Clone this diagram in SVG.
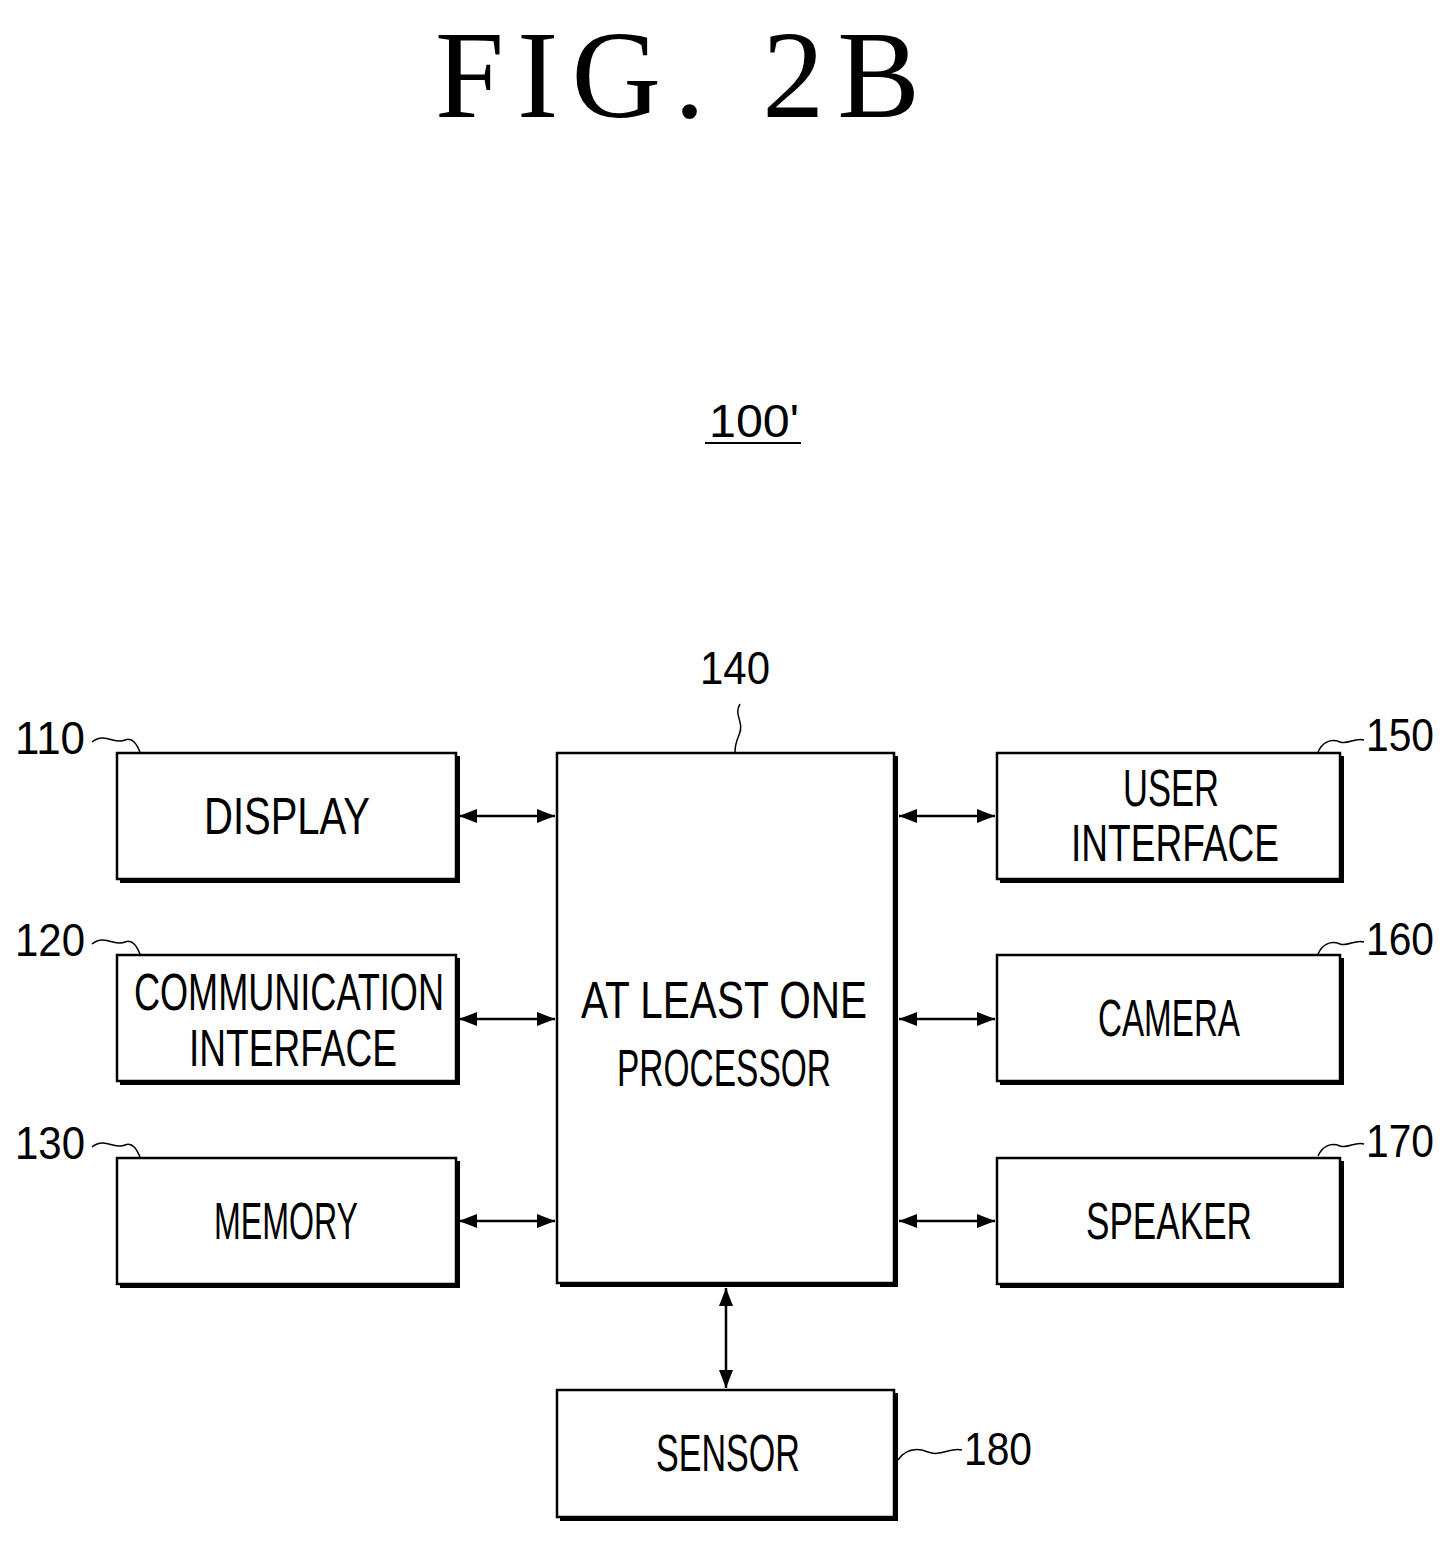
<svg xmlns="http://www.w3.org/2000/svg" width="1453" height="1543" viewBox="0 0 1453 1543">
<defs>
<marker id="ah" viewBox="0 0 18 14" refX="18" refY="7" markerWidth="18" markerHeight="14" markerUnits="userSpaceOnUse" orient="auto-start-reverse"><path d="M0,0L18,7L0,14z" fill="#000"/></marker>
</defs>
<style>
.b{fill:#fff;stroke:#000;stroke-width:2.5}
.s{fill:none;stroke:#000;stroke-width:4}
.t{font-family:"Liberation Sans",sans-serif;font-size:52px;text-anchor:middle}
.n{font-family:"Liberation Sans",sans-serif;font-size:46px}
.l{fill:none;stroke:#000;stroke-width:1.5}
.c{stroke:#000;stroke-width:2.5;fill:none;marker-start:url(#ah);marker-end:url(#ah)}
</style>
<rect width="1453" height="1543" fill="#fff"/>
<text x="435" y="117" font-family="Liberation Serif,serif" font-size="124" textLength="485" lengthAdjust="spacing">FIG. 2B</text>
<text x="754" y="437" class="n" text-anchor="middle" textLength="90" lengthAdjust="spacingAndGlyphs">100'</text>
<line x1="705" y1="443" x2="801" y2="443" stroke="#000" stroke-width="2"/>

<g id="display"><path class="s" d="M458,756V881H120"/><rect class="b" x="117" y="753" width="339" height="126"/><text class="t" x="287" y="834" textLength="166" lengthAdjust="spacingAndGlyphs">DISPLAY</text>
<text class="n" x="15" y="754" textLength="70" lengthAdjust="spacingAndGlyphs">110</text><path class="l" d="M92,742C105,732 115,745 125,740C133,737 137,745 140,752"/></g>

<g id="comm"><path class="s" d="M458,958V1083H120"/><rect class="b" x="117" y="955" width="339" height="126"/><text class="t" x="289" y="1010" textLength="310" lengthAdjust="spacingAndGlyphs">COMMUNICATION</text><text class="t" x="293" y="1066" textLength="208" lengthAdjust="spacingAndGlyphs">INTERFACE</text>
<text class="n" x="15" y="956" textLength="70" lengthAdjust="spacingAndGlyphs">120</text><path class="l" d="M92,944C105,934 115,947 125,942C133,939 137,947 140,954"/></g>

<g id="memory"><path class="s" d="M458,1161V1286H120"/><rect class="b" x="117" y="1158" width="339" height="126"/><text class="t" x="286" y="1239" textLength="144" lengthAdjust="spacingAndGlyphs">MEMORY</text>
<text class="n" x="15" y="1159" textLength="70" lengthAdjust="spacingAndGlyphs">130</text><path class="l" d="M92,1147C105,1137 115,1150 125,1145C133,1142 137,1150 140,1157"/></g>

<g id="processor"><path class="s" d="M896,756V1285H560"/><rect class="b" x="557" y="753" width="337" height="530"/><text class="t" x="724" y="1018" textLength="286" lengthAdjust="spacingAndGlyphs">AT LEAST ONE</text><text class="t" x="724" y="1086" textLength="214" lengthAdjust="spacingAndGlyphs">PROCESSOR</text>
<text class="n" x="700" y="684" textLength="70" lengthAdjust="spacingAndGlyphs">140</text><path class="l" d="M740,704C733,715 745,722 739,735C736,742 735,747 735,752"/></g>

<g id="ui"><path class="s" d="M1342,756V881H1000"/><rect class="b" x="997" y="753" width="343" height="126"/><text class="t" x="1171" y="806" textLength="96" lengthAdjust="spacingAndGlyphs">USER</text><text class="t" x="1175" y="861" textLength="208" lengthAdjust="spacingAndGlyphs">INTERFACE</text>
<text class="n" x="1366" y="751" textLength="68" lengthAdjust="spacingAndGlyphs">150</text><path class="l" d="M1318,752C1322,743 1330,738 1340,742C1348,745 1355,737 1364,740"/></g>

<g id="camera"><path class="s" d="M1342,958V1083H1000"/><rect class="b" x="997" y="955" width="343" height="126"/><text class="t" x="1169" y="1036" textLength="142" lengthAdjust="spacingAndGlyphs">CAMERA</text>
<text class="n" x="1366" y="955" textLength="68" lengthAdjust="spacingAndGlyphs">160</text><path class="l" d="M1318,954C1322,945 1330,940 1340,944C1348,947 1355,939 1364,942"/></g>

<g id="speaker"><path class="s" d="M1342,1161V1286H1000"/><rect class="b" x="997" y="1158" width="343" height="126"/><text class="t" x="1169" y="1239" textLength="166" lengthAdjust="spacingAndGlyphs">SPEAKER</text>
<text class="n" x="1366" y="1157" textLength="68" lengthAdjust="spacingAndGlyphs">170</text><path class="l" d="M1318,1156C1322,1147 1330,1142 1340,1146C1348,1149 1355,1141 1364,1144"/></g>

<g id="sensor"><path class="s" d="M896,1393V1519H560"/><rect class="b" x="557" y="1390" width="337" height="127"/><text class="t" x="728" y="1471" textLength="144" lengthAdjust="spacingAndGlyphs">SENSOR</text>
<text class="n" x="964" y="1465" textLength="68" lengthAdjust="spacingAndGlyphs">180</text><path class="l" d="M898,1460C905,1450 915,1447 928,1452C940,1457 950,1447 962,1450"/></g>

<g id="connectors">
<line class="c" x1="459" y1="816" x2="555" y2="816"/>
<line class="c" x1="459" y1="1019" x2="555" y2="1019"/>
<line class="c" x1="459" y1="1221" x2="555" y2="1221"/>
<line class="c" x1="899" y1="816" x2="995" y2="816"/>
<line class="c" x1="899" y1="1019" x2="995" y2="1019"/>
<line class="c" x1="899" y1="1221" x2="995" y2="1221"/>
<line class="c" x1="726" y1="1288" x2="726" y2="1388"/>
</g>
</svg>
